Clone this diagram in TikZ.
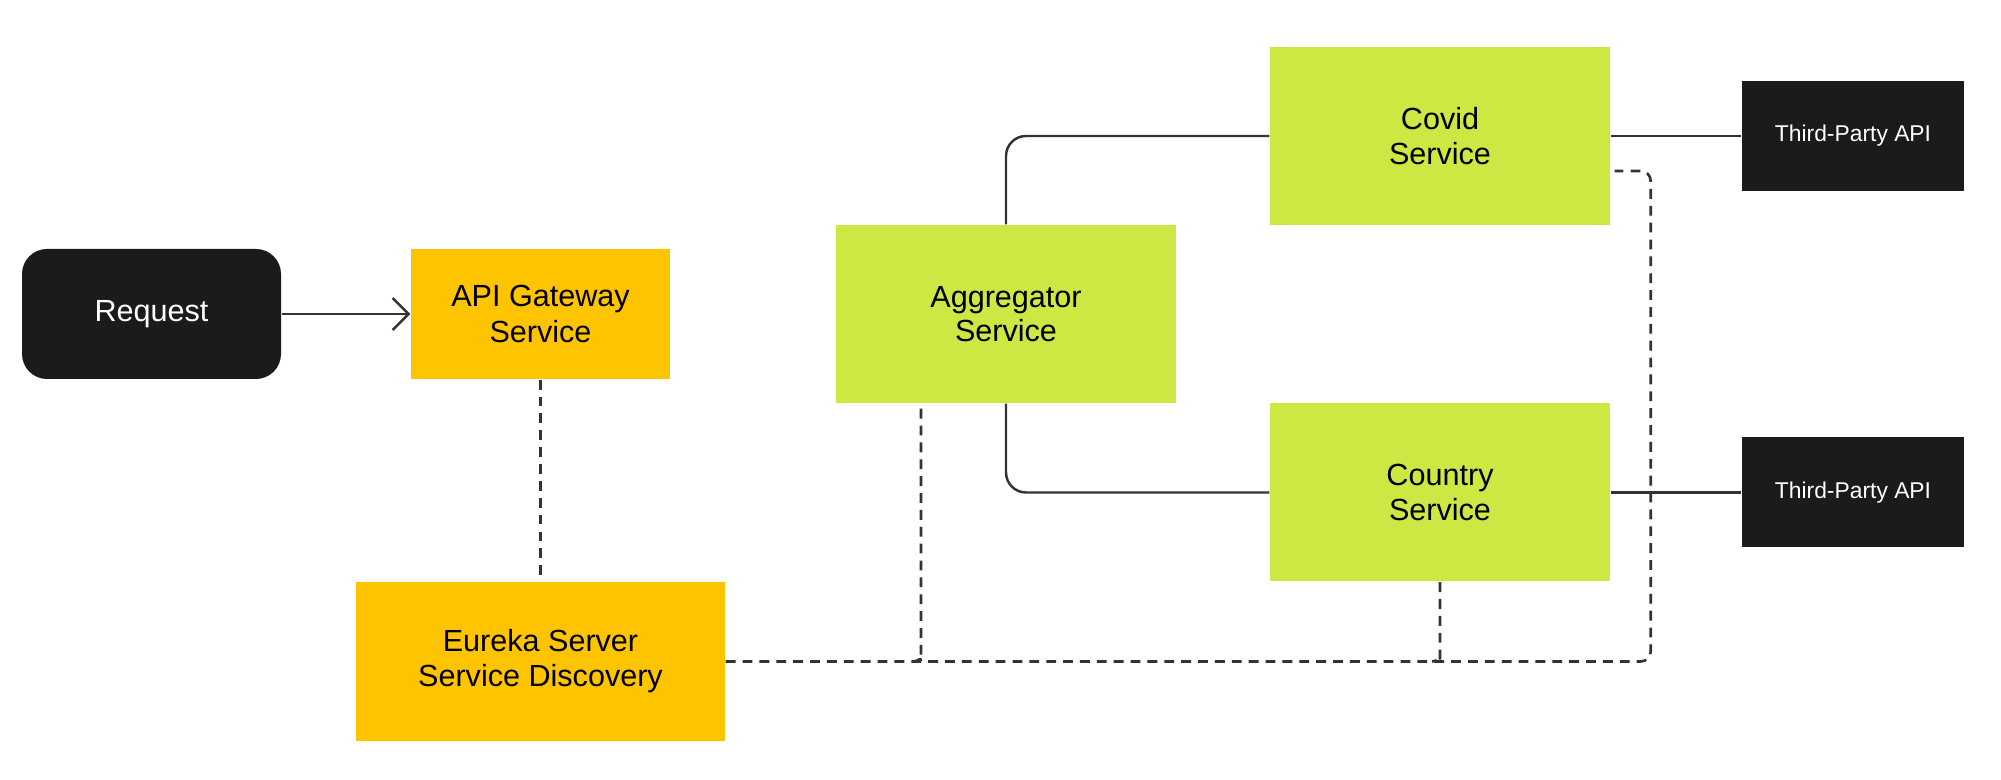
\documentclass[tikz,border=0pt]{standalone}
\usepackage{fontspec}
\setmainfont{Liberation Sans}
\usepackage{xcolor}
\usepackage{tikz}
\usetikzlibrary{arrows.meta,positioning,calc}

\definecolor{gateyellow}{HTML}{FFC400}
\definecolor{svclime}{HTML}{CFE743}
\definecolor{boxdark}{HTML}{1B1B1B}
\definecolor{linegray}{HTML}{333333}

\begin{document}
\begin{tikzpicture}[
    dark/.style={fill=boxdark, text=white, minimum width=2.59cm, minimum height=1.30cm, align=center, font=\fontsize{8.7}{10}\selectfont},
    extapi/.style={fill=boxdark, text=white, minimum width=2.22cm, minimum height=1.10cm, align=center, font=\fontsize{6.5}{8}\selectfont},
    infra/.style={fill=gateyellow, minimum width=2.59cm, minimum height=1.30cm, align=center, font=\fontsize{8.7}{10}\selectfont},
    svc/.style={fill=svclime, minimum width=3.40cm, minimum height=1.78cm, align=center, font=\fontsize{8.7}{9.8}\selectfont},
    link/.style={draw=linegray, line width=0.7pt, rounded corners=2mm},
    dashlink/.style={draw=linegray, line width=0.75pt, dash pattern=on 2.8pt off 2pt, rounded corners=1mm},
    arrow/.style={link, -{Straight Barb[length=1.6mm, width=3.2mm]}}
]
    \useasboundingbox (0,0) rectangle (20.01,7.80);

    % Entry and gateway
    \node[dark, rounded corners=2.5mm] (request) at (1.515,4.66) {Request};
    \node[infra] (gateway) at (5.405,4.66) {API Gateway\\Service};
    \node[infra, minimum width=3.69cm, minimum height=1.59cm] (eureka) at (5.405,1.185) {Eureka Server\\Service Discovery};

    % Services
    \node[svc] (aggregator) at (10.06,4.66) {Aggregator\\Service};
    \node[svc] (covid) at (14.40,6.44) {Covid\\Service};
    \node[svc] (country) at (14.40,2.875) {Country\\Service};

    % External APIs
    \node[extapi] (covidapi) at (18.53,6.44) {Third-Party API};
    \node[extapi] (countryapi) at (18.53,2.875) {Third-Party API};

    % Request flow
    \draw[arrow] (request.east) -- (gateway.west);
    \draw[link] (aggregator.north) |- (covid.west);
    \draw[link] (aggregator.south) |- (country.west);
    \draw[link] (covid.east) -- (covidapi.west);
    \draw[link] (country.east) -- (countryapi.west);

    % Service discovery
    \draw[dashlink] (gateway.south) -- (eureka.north);
    \coordinate (covidreg) at ([xshift=0.4mm, yshift=-3.5mm]covid.east);
    \draw[dashlink] (eureka.east) -| ([xshift=3.6mm]covidreg) -- (covidreg);
    \coordinate (aggjoin) at ([xshift=-8.5mm]aggregator.south |- eureka.east);
    \coordinate (ctyjoin) at (country.south |- eureka.east);
    \draw[dashlink] ([xshift=-8.5mm, yshift=-0.5mm]aggregator.south) -- ([yshift=1mm]aggjoin) to[out=-90, in=0] ([xshift=-0.8mm]aggjoin);
    \draw[dashlink] (country.south) -- ([yshift=1mm]ctyjoin) to[out=-90, in=0] ([xshift=-0.8mm]ctyjoin);
\end{tikzpicture}
\end{document}
